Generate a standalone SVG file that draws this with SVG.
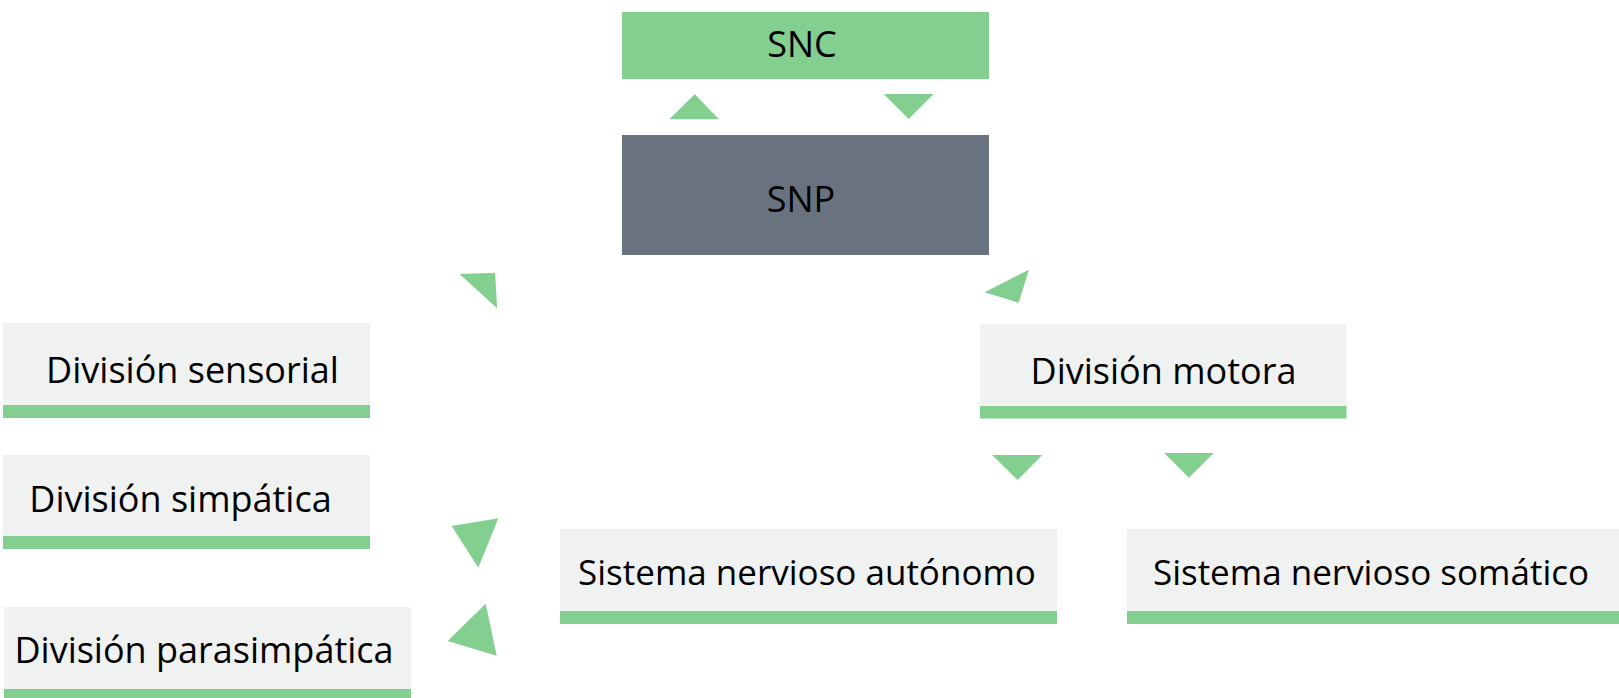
<svg xmlns="http://www.w3.org/2000/svg" width="1619" height="698" viewBox="0 0 1619 698">
<style>
.green{fill:#83CF8F}
.gray{fill:#69737F}
.light{fill:#F0F2F1}
.t{font-family:"Open Sans","Noto Sans",sans-serif;font-size:36px;fill:#000;text-anchor:middle}
.s{font-size:35px}
.arr{fill:#83CF8F}
</style>
<rect width="1619" height="698" fill="#fff"/>
<g id="snc">
<rect class="green" x="622" y="12" width="367" height="67"/>
<text class="t" x="802" y="57">SNC</text>
</g>
<g id="snp">
<rect class="gray" x="622" y="135" width="367" height="120"/>
<text class="t" x="801" y="212">SNP</text>
</g>
<g id="sensorial">
<rect class="light" x="3" y="323" width="367" height="95"/>
<rect class="green" x="3" y="405" width="367" height="13"/>
<text class="t" x="192.5" y="383">División sensorial</text>
</g>
<g id="motora">
<rect class="light" x="980" y="324" width="366.5" height="94.5"/>
<rect class="green" x="980" y="406" width="366.5" height="12.5"/>
<text class="t" x="1163.5" y="384">División motora</text>
</g>
<g id="simpatica">
<rect class="light" x="3" y="455" width="367" height="94"/>
<rect class="green" x="3" y="536" width="367" height="13"/>
<text class="t" x="180.5" y="512">División simpática</text>
</g>
<g id="parasimpatica">
<rect class="light" x="4" y="607" width="407" height="91"/>
<rect class="green" x="4" y="689" width="407" height="9"/>
<text class="t" x="204" y="663">División parasimpática</text>
</g>
<g id="autonomo">
<rect class="light" x="560" y="529" width="497" height="95"/>
<rect class="green" x="560" y="611" width="497" height="13"/>
<text class="t s" x="807" y="585">Sistema nervioso autónomo</text>
</g>
<g id="somatico">
<rect class="light" x="1127" y="529" width="492" height="95"/>
<rect class="green" x="1127" y="611" width="492" height="13"/>
<text class="t s" x="1371" y="585">Sistema nervioso somático</text>
</g>
<g id="connectors">
<polygon class="arr" points="669.3,119.3 694.7,94.3 719,119.3"/>
<polygon class="arr" points="883.7,94 933.7,94 908.7,119"/>
<polygon class="arr" points="459.5,274 495.1,272.7 497.1,308.3"/>
<polygon class="arr" points="984.6,292.3 1028.9,269.7 1018.7,302.7"/>
<polygon class="arr" points="992.1,455 1042.3,455 1017.6,480"/>
<polygon class="arr" points="1164.2,453 1213.7,453 1188.9,477.7"/>
<polygon class="arr" points="451.7,526 498.3,518.3 478.3,567.7"/>
<polygon class="arr" points="485.7,603.7 447.7,641 496.7,655.7"/>
</g>
</svg>
